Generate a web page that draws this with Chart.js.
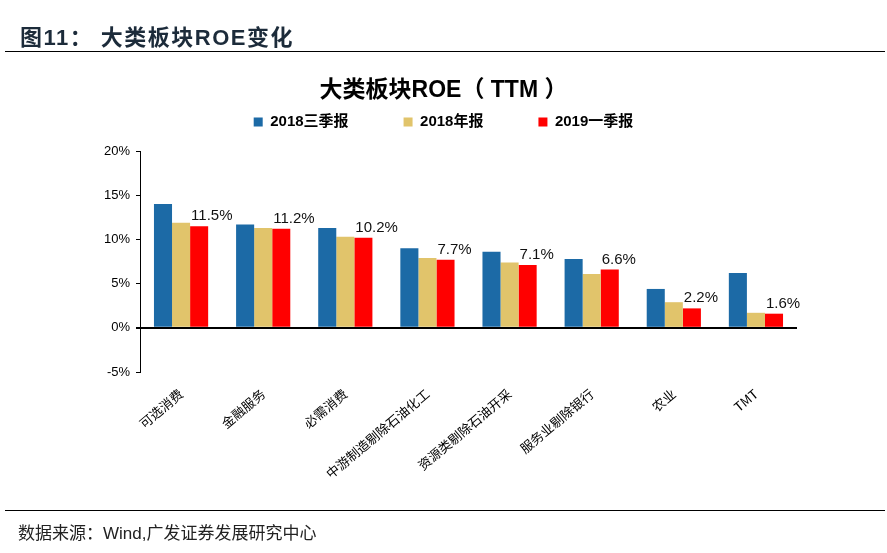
<!DOCTYPE html>
<html>
<head>
<meta charset="utf-8">
<script src="https://cdn.jsdelivr.net/npm/chart.js@4.4.1/dist/chart.umd.min.js"></script>
<style>
  html, body { margin: 0; padding: 0; background: #fff; }
  #wrap { position: relative; width: 887px; height: 553px; overflow: hidden; }
  #roe { position: absolute; left: 0; top: 0; }
  .head { position: absolute; left: 20px; top: 19px; font: bold 22px "Liberation Sans", "Noto Sans CJK SC", sans-serif; color: #1c2b3a; letter-spacing: 1.5px; white-space: pre; }
  .rule { position: absolute; left: 5px; width: 880px; height: 0; border-top: 1.5px solid #000; }
  .src { position: absolute; left: 18px; top: 519px; font: 17px "Liberation Sans", "Noto Sans CJK SC", sans-serif; color: #222; }
</style>
</head>
<body>
<div id="wrap">
  <canvas id="roe" width="887" height="553"></canvas>
  <div class="head">图11： 大类板块ROE变化</div>
  <div class="rule" style="top:51px"></div>
  <div class="rule" style="top:510px"></div>
  <div class="src">数据来源：Wind,广发证券发展研究中心</div>
</div>
<script>
// sectors and ROE (TTM, %)
const sectors = ['可选消费', '金融服务', '必需消费', '中游制造剔除石油化工', '资源类剔除石油开采', '服务业剔除银行', '农业', 'TMT'];
const q3_2018 = [14.0, 11.7, 11.3, 9.0, 8.6, 7.8, 4.4, 6.2];
const y2018 = [11.9, 11.3, 10.3, 7.9, 7.4, 6.1, 2.9, 1.7];
const q1_2019 = [11.5, 11.2, 10.2, 7.7, 7.1, 6.6, 2.2, 1.6];
const yTicks = [-5, 0, 5, 10, 15, 20];

const FONT = '"Liberation Sans", "Noto Sans CJK SC", sans-serif';

// value labels on the 2019Q1 bars
const valueLabels = {
  id: 'valueLabels',
  afterDatasetsDraw(chart) {
    const ctx = chart.ctx;
    const meta = chart.getDatasetMeta(2);
    ctx.save();
    ctx.font = '15px ' + FONT;
    ctx.fillStyle = '#111';
    ctx.textAlign = 'left';
    ctx.textBaseline = 'alphabetic';
    meta.data.forEach((bar, i) => {
      ctx.fillText(q1_2019[i].toFixed(1) + '%', bar.x - bar.width / 2 + 1, bar.y - 6);
    });
    ctx.restore();
  }
};

new Chart(document.getElementById('roe'), {
  type: 'bar',
  data: {
    labels: sectors,
    datasets: [
      { label: '2018三季报', data: q3_2018, backgroundColor: '#1C6AA6' },
      { label: '2018年报', data: y2018, backgroundColor: '#E1C46B' },
      { label: '2019一季报', data: q1_2019, backgroundColor: '#FF0000' }
    ]
  },
  options: {
    responsive: false,
    animation: false,
    layout: { padding: 0 },
    datasets: { bar: { categoryPercentage: 0.66, barPercentage: 1.0 } },
    plugins: {
      tooltip: { enabled: false },
      title: {
        display: true,
        text: '大类板块ROE（ TTM ）',
        color: '#000',
        font: { family: FONT, size: 23, weight: 'bold' },
        padding: { top: 77, bottom: 0 }
      },
      legend: {
        position: 'top',
        labels: {
          boxWidth: 9, boxHeight: 9, padding: 10,
          color: '#000',
          font: { family: FONT, size: 15, weight: 'bold' },
          generateLabels(chart) {
            const items = Chart.defaults.plugins.legend.labels.generateLabels(chart);
            items.forEach((it, i) => { if (i < items.length - 1) it.text += '\u3000\u3000\u3000'; });
            return items;
          }
        }
      }
    },
    scales: {
      x: {
        grid: { display: false },
        border: { display: false },
        ticks: {
          autoSkip: false, minRotation: 40, maxRotation: 40,
          color: '#000', padding: 6,
          font: { family: '"Noto Sans CJK SC", sans-serif', size: 13 }
        },
        afterFit(s) { s.height = 181; }
      },
      xTop: {
        type: 'category', position: 'top',
        grid: { display: false }, border: { display: false },
        ticks: { display: false },
        afterFit(s) { s.height = 11.5; }
      },
      y: {
        min: -5, max: 20,
        afterBuildTicks(s) { s.ticks = yTicks.map(v => ({ value: v })); },
        border: { display: true, color: '#000', width: 1 },
        grid: {
          drawOnChartArea: true,
          color: c => (c.tick && c.tick.value === 0 ? '#000' : 'rgba(0,0,0,0)'),
          lineWidth: c => (c.tick && c.tick.value === 0 ? 2 : 1),
          tickColor: '#000', tickLength: 4
        },
        ticks: {
          color: '#000', padding: 6,
          font: { family: FONT, size: 13 },
          callback: v => v + '%'
        },
        afterFit(s) { s.width = 140; }
      },
      yRight: {
        position: 'right',
        grid: { display: false }, border: { display: false },
        ticks: { display: false },
        afterFit(s) { s.width = 90; }
      }
    }
  },
  plugins: [valueLabels]
});
</script>
</body>
</html>
